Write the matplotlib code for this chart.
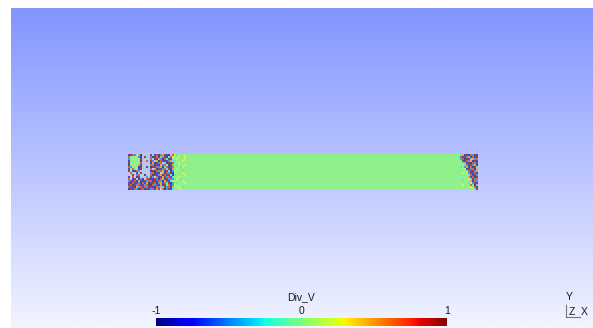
import numpy as np
import matplotlib
matplotlib.use("Agg")
import matplotlib.pyplot as plt

# Div_V field, encoded per row: digit d -> value (d - 4) / 4, '.' -> no data
left_rows = [
    "1872.60....8.17026810.7534445",
    "7444421.8..208716280375445345",
    "2444448....7.1862073814454445",
    "1444440..7.82.607181263344454",
    "8444447....160827.30817445444",
    "0444461....72810627.086435445",
    "7244408..1.081726037182444354",
    "1474418....7.6081273806454444",
    "8.1072.....180727618302544434",
    ".7..1.8....27018.607281444454",
    "..8.27..0..708126071830344445",
    "1.7.08...2.82.701682713445444",
    "7.18.021.78018207618272454344",
    "28170610827708172068135444454",
    "80718207160187026173802434445",
    "17082718270072816083712544444",
    "71806271728810726382706445434",
    "0817208708127168.702813444544",
]
right_rows = [
    "44361807281",
    "43718260718",
    "44270813627",
    "44481726081",
    "44436180728",
    "44443718260",
    "44342617083",
    "44445182706",
    "44444371826",
    "44454528170",
    "44444437182",
    "44444461708",
    "44434453827",
    "44444446172",
    "44444435281",
    "44454447306",
    "44444445471",
    "44444444538",
]
middle_cols = 135
field_name = "Div_V"
cbar_ticks = [-1, 0, 1]
axis_labels = ["Y", "Z", "X"]


def decode(row):
    return [np.nan if ch == "." else (int(ch) - 4) / 4.0 for ch in row]


grid = np.array([decode(l + "4" * middle_cols + r) for l, r in zip(left_rows, right_rows)])

W, H = 593, 328
fig = plt.figure(figsize=(W / 100, H / 100), dpi=100)
fig.patch.set_facecolor("white")
ax = fig.add_axes([0, 0, 1, 1])
ax.set_xlim(0, W)
ax.set_ylim(H, 0)
ax.axis("off")

# vertical backdrop gradient
top = np.array([130, 149, 255]) / 255
bottom = np.array([242, 244, 255]) / 255
t = np.linspace(0, 1, 256)[:, None, None]
bg = top * (1 - t) + bottom * t
bg = np.repeat(bg, 2, axis=1)
ax.imshow(bg, extent=(11, W, H, 8), aspect="auto", interpolation="bilinear", zorder=0)

# field slab
cmap = plt.get_cmap("jet")
ax.imshow(grid, extent=(128, 478, 190, 154), aspect="auto", interpolation="nearest",
          cmap=cmap, vmin=-1, vmax=1, alpha=0.78, zorder=1)
# surface tint of the shaded slab
ax.fill_between([128, 478], 154, 190, color="#b8f050", alpha=0.14, lw=0, zorder=1.5)

# color legend
ramp = np.linspace(-1, 1, 512)[None, :]
x0, x1 = 156, 447
ax.imshow(ramp, extent=(x0, x1, 326, 318), aspect="auto", cmap=cmap, vmin=-1, vmax=1,
          interpolation="bilinear", zorder=2)
tc = "#1a1a1a"
fam = ["Liberation Sans", "DejaVu Sans"]
ax.text((x0 + x1) / 2, 300, field_name, ha="center", va="baseline", fontsize=7.5,
        color=tc, family=fam)
for v in cbar_ticks:
    xp = x0 + (v - cbar_ticks[0]) / (cbar_ticks[-1] - cbar_ticks[0]) * (x1 - x0)
    ax.text(xp, 314, f"{v}", ha="center", va="baseline", fontsize=7.5, color=tc,
            family=fam)

# orientation triad
ax.plot([566, 566], [305, 317], color="#777777", lw=0.8, zorder=3)
ax.plot([566, 580], [317, 317], color="#777777", lw=0.8, zorder=3)
ax.text(569, 300, axis_labels[0], ha="center", va="baseline", fontsize=7.5, color=tc, family=fam)
ax.text(572, 315, axis_labels[1], ha="center", va="baseline", fontsize=7.5, color=tc, family=fam)
ax.text(584, 315, axis_labels[2], ha="center", va="baseline", fontsize=7.5, color=tc, family=fam)

fig.savefig("out.png", dpi=100, facecolor="white")
